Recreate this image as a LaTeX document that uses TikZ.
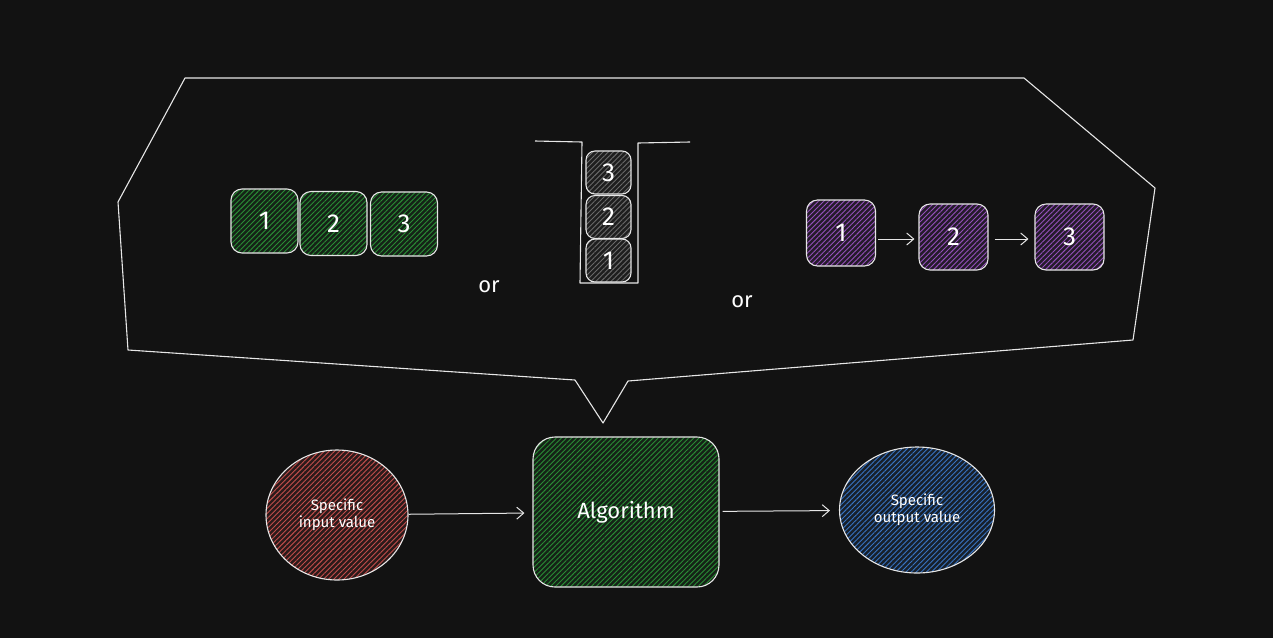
\documentclass[tikz,border=0pt]{standalone}
\usepackage{fontspec}
\setmainfont{Fira Sans}
\usetikzlibrary{arrows.meta,patterns.meta}
\definecolor{bg}{HTML}{121212}
\definecolor{ink}{HTML}{E6E6E6}
\definecolor{hgreen}{HTML}{2A8C35}
\definecolor{hgray}{HTML}{6A6A6A}
\definecolor{hpurple}{HTML}{9450BA}
\definecolor{hred}{HTML}{C24E4C}
\definecolor{hblue}{HTML}{3873C2}
\tikzset{
  sketch/.style={draw=ink, line width=1.1pt, line join=round},
  hatch/.style={preaction={fill=#1!14!bg}, pattern={Lines[angle=45,distance=3.6pt,line width=0.9pt]}, pattern color=#1},
  cell/.style={sketch, hatch=#1, rounded corners=11pt, text=white, inner sep=0pt,
    font=\fontsize{26}{26}\selectfont},
  blob/.style={sketch, hatch=#1, ellipse, text=white, align=center, inner sep=0pt,
    font=\fontsize{15}{17}\selectfont},
  link/.style={draw=ink, line width=1pt, -{Straight Barb[length=7pt,width=12pt]}},
  word/.style={text=white, font=\fontsize{22}{22}\selectfont}
}
\usetikzlibrary{shapes.geometric}
\begin{document}
\begin{tikzpicture}[x=1pt,y=-1pt]
\fill[bg] (0,0) rectangle (1273,638);
\useasboundingbox (0,0) rectangle (1273,638);
% callout
\draw[sketch] (185,78) -- (1024,78) -- (1155,188) -- (1133,340) -- (628,381)
  -- (603,423) -- (575,380) -- (128,350) -- (118,202) -- cycle;
% array
\foreach \n/\x/\y in {1/264.5/221, 2/333.5/223.5, 3/404/224}
  \node[cell=hgreen, minimum width=67pt, minimum height=64pt] (arr\n) at (\x,\y) {\n};
\node[word] (or1) at (489,287) {or};
% stack
\draw[sketch] (535,141) -- (582,142) -- (580,283) -- (638,283) -- (638,143) -- (690,142);
\foreach \n/\y in {1/260.5, 2/217, 3/172.5}
  \node[cell=hgray, minimum width=45pt, minimum height=43pt, rounded corners=9pt] (stk\n) at (608.5,\y) {\n};
\node[word] (or2) at (742,302) {or};
% linked list
\foreach \n/\x/\y in {1/841/233, 2/953.5/237, 3/1069.5/237}
  \node[cell=hpurple, minimum width=69pt, minimum height=66pt] (lst\n) at (\x,\y) {\n};
\draw[link, shorten <=2pt, shorten >=4pt] (lst1.east |- 0,239) -- (lst2.west |- 0,239);
\draw[link, shorten <=6pt, shorten >=6pt] (lst2.east |- 0,239) -- (lst3.west |- 0,239);
% main flow
\node[blob=hred, minimum width=142pt, minimum height=130pt] (input) at (337,515) {Specific\\input value};
\node[sketch, hatch=hgreen, rounded corners=22pt, minimum width=186pt, minimum height=150pt,
  text=white, font=\fontsize{22}{22}\selectfont] (alg) at (626,512) {\raisebox{-5pt}{Algorithm}};
\node[blob=hblue, minimum width=155pt, minimum height=126pt] (output) at (917,510) {Specific\\output value};
\draw[link, shorten >=8pt] (input) -- (alg);
\draw[link, shorten <=3pt, shorten >=9pt] (alg) -- (output);
\end{tikzpicture}
\end{document}
